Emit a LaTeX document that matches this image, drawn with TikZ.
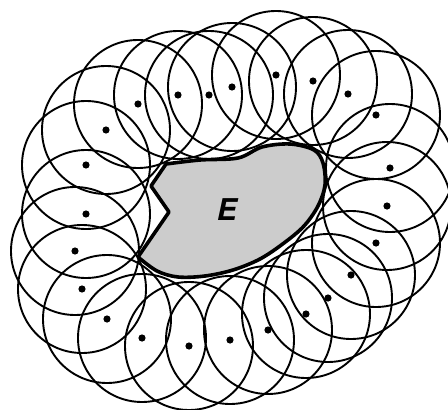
\documentclass[tikz,border=0pt]{standalone}
\usepackage{fontspec}
\newfontfamily\efont{TeX Gyre Heros}
\begin{document}
\begin{tikzpicture}[x=1pt,y=-1pt,
  ring/.style={draw=black,line width=1.9pt},
  spot/.style={fill=black},
  region/.style={fill=black!20,draw=black,line width=3.6pt,line join=round},
  lab/.style={inner sep=0pt,font=\efont\bfseries\itshape\fontsize{30}{30}\selectfont}]
\useasboundingbox (0,0) rectangle (448,410);
\fill[white] (0,0) rectangle (448,410);
\begin{scope}
\clip (0,0) rectangle (448,410);
\foreach \x/\y [count=\i] in {86/165,106/130,138/104,178/95,209/95,232/87,276/75,313/81,348/94,376/115,390/168,387/206,376/243,351/275,328/298,306/314,268/330,230/340,189/346,142/338,107/319,82/289,75/251,86/214}{
  \coordinate (p\i) at (\x,\y);
  \draw[ring] (p\i) circle[radius=64];
}
\end{scope}
\foreach \i in {1,...,24}{\fill[spot] (p\i) circle[radius=3.6];}
\draw[region] (138,257) -- (169,212) -- (151,186) -- (166,164)
  -- plot[smooth,tension=0.55] coordinates {(166,164) (200,160) (238,158) (262,147) (290,144) (314,150) (323,163) (325,185) (318,206) (304,226) (284,243) (260,259) (233,270) (205,276) (178,277) (157,271) (138,257)} -- cycle;
\node[lab] (E) at (227,210) {E};
\end{tikzpicture}
\end{document}
